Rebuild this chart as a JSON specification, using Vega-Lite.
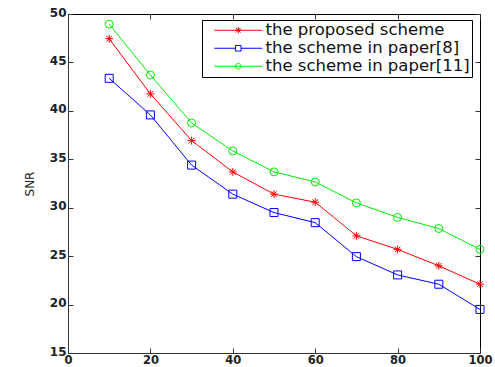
{
  "$schema": "https://vega.github.io/schema/vega-lite/v6.json",
  "width": 412,
  "height": 339,
  "autosize": {"type": "none"},
  "padding": {"left": 68, "top": 14, "right": 15, "bottom": 14},
  "background": "white",
  "config": {
    "view": {"stroke": "black", "strokeWidth": 1},
    "axis": {
      "domainColor": "#333333",
      "tickColor": "#333333",
      "labelColor": "#222222",
      "labelFont": "DejaVu Sans",
      "labelFontWeight": "bold",
      "labelFontSize": 11.5,
      "grid": false,
      "tickSize": -5,
      "titleFont": "DejaVu Sans",
      "titleFontWeight": "normal",
      "titleColor": "#222222"
    }
  },
  "data": {
    "values": [
      {"x": 10, "snr": 47.45, "s": "the proposed scheme"},
      {"x": 20, "snr": 41.75, "s": "the proposed scheme"},
      {"x": 30, "snr": 36.93, "s": "the proposed scheme"},
      {"x": 40, "snr": 33.7, "s": "the proposed scheme"},
      {"x": 50, "snr": 31.4, "s": "the proposed scheme"},
      {"x": 60, "snr": 30.57, "s": "the proposed scheme"},
      {"x": 70, "snr": 27.1, "s": "the proposed scheme"},
      {"x": 80, "snr": 25.7, "s": "the proposed scheme"},
      {"x": 90, "snr": 24.0, "s": "the proposed scheme"},
      {"x": 100, "snr": 22.1, "s": "the proposed scheme"},
      {"x": 10, "snr": 43.36, "s": "the scheme in paper[8]"},
      {"x": 20, "snr": 39.58, "s": "the scheme in paper[8]"},
      {"x": 30, "snr": 34.4, "s": "the scheme in paper[8]"},
      {"x": 40, "snr": 31.4, "s": "the scheme in paper[8]"},
      {"x": 50, "snr": 29.5, "s": "the scheme in paper[8]"},
      {"x": 60, "snr": 28.46, "s": "the scheme in paper[8]"},
      {"x": 70, "snr": 24.95, "s": "the scheme in paper[8]"},
      {"x": 80, "snr": 23.06, "s": "the scheme in paper[8]"},
      {"x": 90, "snr": 22.1, "s": "the scheme in paper[8]"},
      {"x": 100, "snr": 19.5, "s": "the scheme in paper[8]"},
      {"x": 10, "snr": 48.95, "s": "the scheme in paper[11]"},
      {"x": 20, "snr": 43.7, "s": "the scheme in paper[11]"},
      {"x": 30, "snr": 38.75, "s": "the scheme in paper[11]"},
      {"x": 40, "snr": 35.86, "s": "the scheme in paper[11]"},
      {"x": 50, "snr": 33.7, "s": "the scheme in paper[11]"},
      {"x": 60, "snr": 32.66, "s": "the scheme in paper[11]"},
      {"x": 70, "snr": 30.5, "s": "the scheme in paper[11]"},
      {"x": 80, "snr": 29.0, "s": "the scheme in paper[11]"},
      {"x": 90, "snr": 27.85, "s": "the scheme in paper[11]"},
      {"x": 100, "snr": 25.7, "s": "the scheme in paper[11]"}
    ]
  },
  "resolve": {"axis": {"x": "independent", "y": "independent"}},
  "layer": [
    {
      "mark": {"type": "line", "strokeWidth": 1},
      "encoding": {
        "x": {"field": "x", "type": "quantitative", "scale": {"domain": [0, 100], "nice": false},
              "axis": {"values": [0, 20, 40, 60, 80, 100], "title": null, "labelPadding": 6.5, "labelFlush": false}},
        "y": {"field": "snr", "type": "quantitative", "scale": {"domain": [15, 50], "nice": false, "zero": false},
              "axis": {"values": [15, 20, 25, 30, 35, 40, 45, 50], "title": "SNR", "titleFontSize": 12, "titlePadding": 13, "labelPadding": 7, "labelFontSize": 12, "labelOffset": -2, "labelFlush": false}},
        "color": {"field": "s", "type": "nominal",
                  "scale": {"domain": ["the proposed scheme", "the scheme in paper[8]", "the scheme in paper[11]"], "range": ["#ff0000", "#0000ff", "#00ee00"]},
                  "legend": {
                    "title": null,
                    "orient": "none",
                    "legendX": 134,
                    "legendY": 6,
                    "strokeColor": "black",
                    "fillColor": "white",
                    "padding": 2,
                    "rowPadding": 1,
                    "labelFont": "DejaVu Sans",
                    "labelFontSize": 16.5,
                    "labelLimit": 400,
                    "labelColor": "#111111",
                    "symbolSize": 64,
                    "symbolOffset": 26,
                    "labelOffset": 19,
                    "symbolStrokeWidth": 1,
                    "encode": {
                      "symbols": {
                        "update": {
                          "shape": {"signal": "datum.value === 'the proposed scheme' ? 'M-6,0L6,0M0,-0.8L0,0.8M-0.8,0L0.8,0M-0.57,-0.57L0.57,0.57M-0.57,0.57L0.57,-0.57' : datum.value === 'the scheme in paper[8]' ? 'M-6,0L-0.7,0M0.7,0L6,0M-0.7,-0.7L0.7,-0.7L0.7,0.7L-0.7,0.7Z' : 'M-6,0L6,0M-0.7,0A0.7,0.7,0,1,0,0.7,0A0.7,0.7,0,1,0,-0.7,0Z'"},
                          "fill": {"value": "transparent"}
                        }
                      }
                    }
                  }},
        "detail": {"field": "s"}
      }
    },
    {
      "transform": [{"filter": "datum.s === 'the proposed scheme'"}],
      "mark": {"type": "point", "filled": false, "strokeWidth": 1, "size": 64, "opacity": 1, "shape": "M0,-1L0,1M-1,0L1,0M-0.7,-0.7L0.7,0.7M-0.7,0.7L0.7,-0.7"},
      "encoding": {
        "x": {"field": "x", "type": "quantitative", "axis": {"orient": "top", "values": [0, 20, 40, 60, 80, 100], "labels": false, "title": null, "domain": false}},
        "y": {"field": "snr", "type": "quantitative", "axis": {"orient": "right", "values": [15, 20, 25, 30, 35, 40, 45, 50], "labels": false, "title": null, "domain": false}},
        "color": {"field": "s", "type": "nominal"}
      }
    },
    {
      "transform": [{"filter": "datum.s === 'the scheme in paper[8]'"}],
      "mark": {"type": "point", "filled": false, "strokeWidth": 1, "size": 64, "opacity": 1, "shape": "square"},
      "encoding": {
        "x": {"field": "x", "type": "quantitative", "axis": null},
        "y": {"field": "snr", "type": "quantitative", "axis": null},
        "color": {"field": "s", "type": "nominal"}
      }
    },
    {
      "transform": [{"filter": "datum.s === 'the scheme in paper[11]'"}],
      "mark": {"type": "point", "filled": false, "strokeWidth": 1, "size": 64, "opacity": 1, "shape": "circle"},
      "encoding": {
        "x": {"field": "x", "type": "quantitative", "axis": null},
        "y": {"field": "snr", "type": "quantitative", "axis": null},
        "color": {"field": "s", "type": "nominal"}
      }
    }
  ]
}
